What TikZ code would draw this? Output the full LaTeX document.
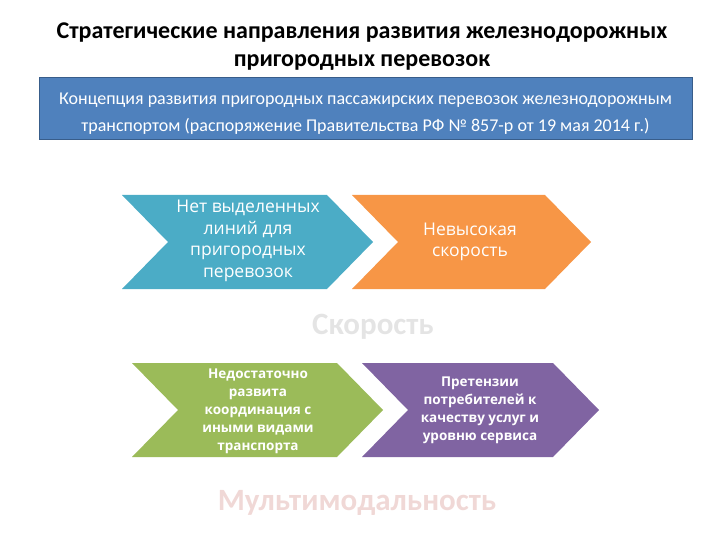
\documentclass[tikz,border=0pt]{standalone}
\usepackage{fontspec}
\setmainfont{Carlito}
\newfontfamily\chevfont{Open Sans}
\usetikzlibrary{positioning}

\definecolor{boxblue}{HTML}{4F81BD}
\definecolor{boxedge}{HTML}{385D8A}
\definecolor{chevblue}{HTML}{4BACC6}
\definecolor{chevorange}{HTML}{F79646}
\definecolor{chevgreen}{HTML}{9BBB59}
\definecolor{chevpurple}{HTML}{8064A2}
\definecolor{fadegray}{HTML}{E4E4E4}
\definecolor{fadepink}{HTML}{F0D8D6}

% chevron: colour, left x, top y, width up to the corner
\newcommand\chevron[4]{%
  \fill[#1] (#2,#3) -- ++(#4,0) -- ++(46,47) -- ++(-46,47) -- ++(-#4,0)
    -- ++(46,-47) -- cycle;}

\begin{document}
\begin{tikzpicture}[x=1pt,y=-1pt,
    title/.style={align=center, font=\bfseries\fontsize{24}{28}\selectfont},
    conceptbox/.style={fill=boxblue, draw=boxedge, line width=1pt,
                       minimum width=653pt, minimum height=62pt, inner sep=0pt,
                       text=white, align=center, font=\fontsize{18}{27}\selectfont},
    chevtext/.style={text=white, align=center, inner sep=0pt,
                     font=\chevfont\fontsize{17.5}{21.5}\selectfont},
    chevbold/.style={chevtext, font=\chevfont\bfseries\fontsize{13.5}{18}\selectfont},
    faded/.style={font=\bfseries\fontsize{31}{34}\selectfont}
  ]
  \useasboundingbox (0,0) rectangle (720,540);

  \node[title] (title) at (362,47)
    {Стратегические направления развития железнодорожных\\пригородных перевозок};
  \node[conceptbox] (concept) at (365.5,109) {};
  \node[text=white, align=center, font=\fontsize{18}{27}\selectfont] (concepttext) at (365.5,114)
    {Концепция развития пригородных пассажирских перевозок железнодорожным\\
     транспортом (распоряжение Правительства РФ № 857-р от 19 мая 2014 г.)};

  % first row
  \chevron{chevblue}{122}{195}{205}
  \chevron{chevorange}{352}{195}{193}
  \node[chevtext] (lines) at (248,241)
    {Нет выделенных\\линий для\\пригородных\\перевозок};
  \node[chevtext] (speed) at (470,242) {Невысокая\\скорость};
  \node[faded, text=fadegray] (speedlabel) at (373,327) {Скорость};

  % second row
  \chevron{chevgreen}{132}{363}{205}
  \chevron{chevpurple}{362}{363}{191}
  \node[chevbold] (coord) at (258,411)
    {Недостаточно\\развита\\координация с\\иными видами\\транспорта};
  \node[chevbold] (claims) at (480,410)
    {Претензии\\потребителей к\\качеству услуг и\\уровню сервиса};
  \node[faded, text=fadepink] (multilabel) at (357,503) {Мультимодальность};
\end{tikzpicture}
\end{document}
